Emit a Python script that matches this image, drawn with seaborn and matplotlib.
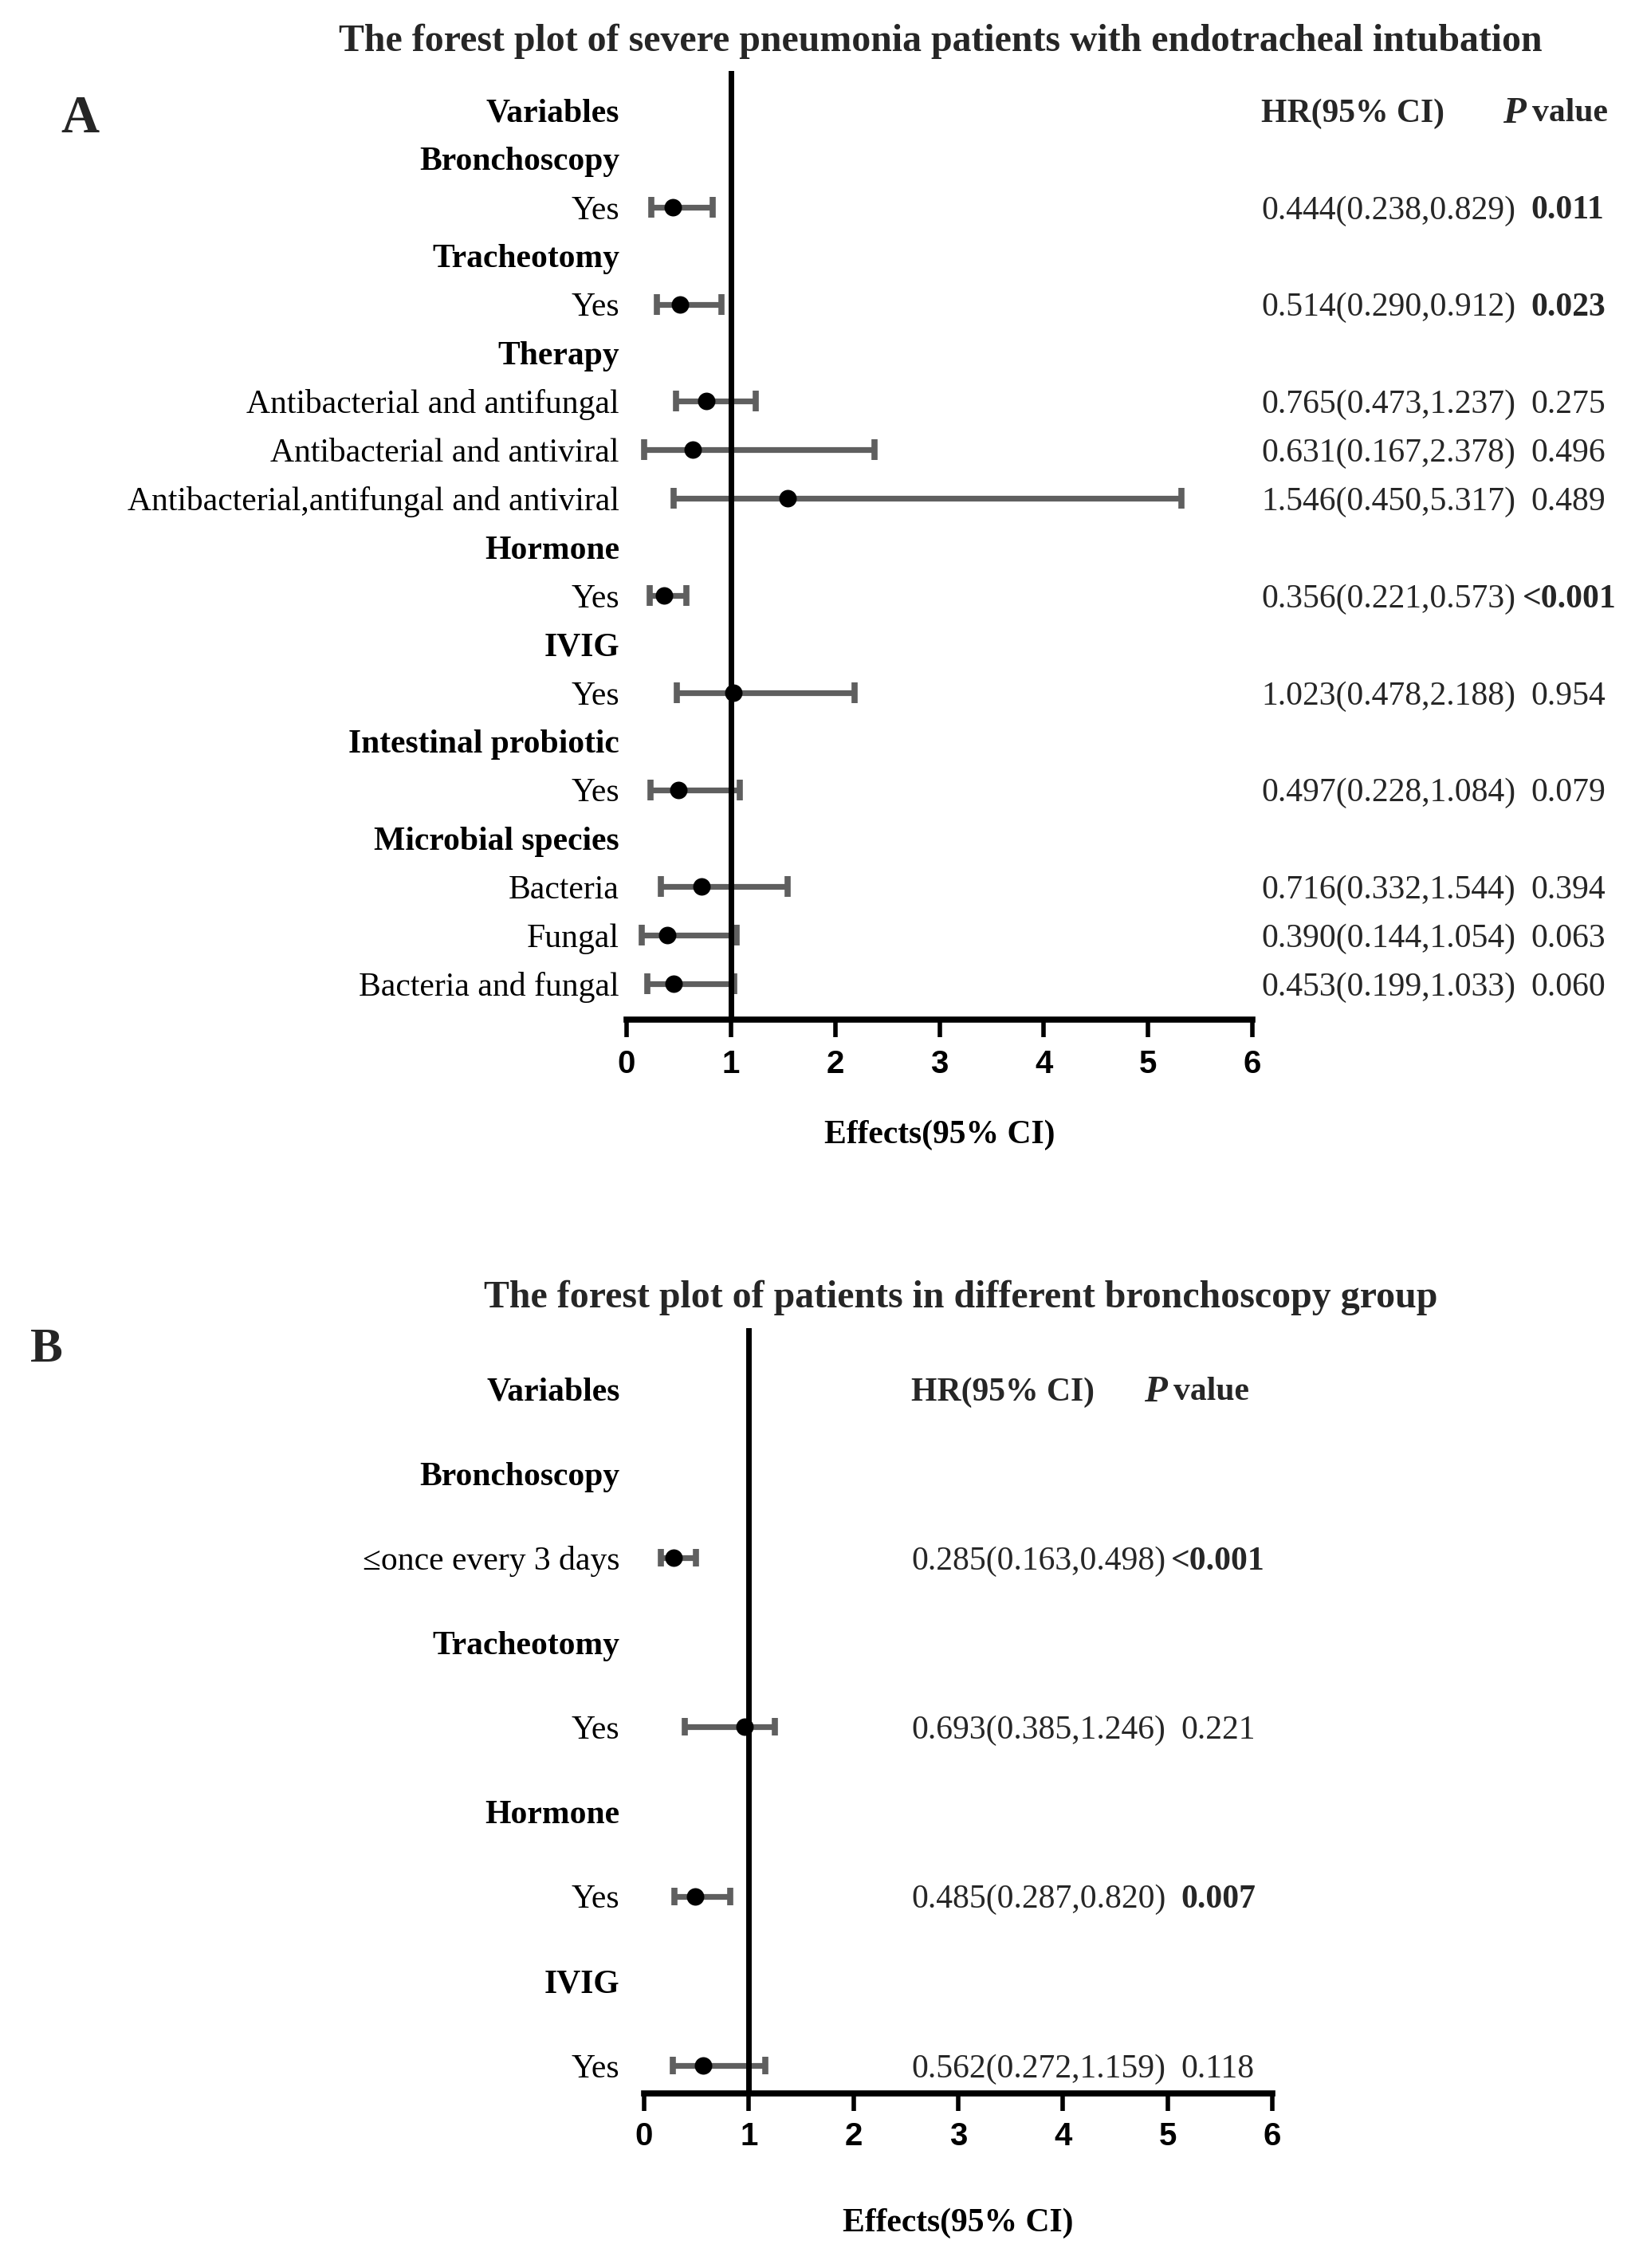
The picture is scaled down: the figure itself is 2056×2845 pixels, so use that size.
import numpy as np
import matplotlib
matplotlib.use("Agg")
import matplotlib.pyplot as plt
import matplotlib.transforms as mtransforms
import seaborn as sns

# ---- panel A: severe pneumonia patients with endotracheal intubation ----
labels_a = [
    "Variables", "Bronchoscopy", "Yes", "Tracheotomy", "Yes", "Therapy",
    "Antibacterial and antifungal", "Antibacterial and antiviral",
    "Antibacterial,antifungal and antiviral", "Hormone", "Yes", "IVIG", "Yes",
    "Intestinal probiotic", "Yes", "Microbial species", "Bacteria", "Fungal",
    "Bacteria and fungal",
]
header_a = [1, 1, 0, 1, 0, 1, 0, 0, 0, 1, 0, 1, 0, 1, 0, 1, 0, 0, 0]
nan = np.nan
hr_a = [nan, nan, 0.444, nan, 0.514, nan, 0.765, 0.631, 1.546, nan, 0.356,
        nan, 1.023, nan, 0.497, nan, 0.716, 0.390, 0.453]
lo_a = [nan, nan, 0.238, nan, 0.290, nan, 0.473, 0.167, 0.450, nan, 0.221,
        nan, 0.478, nan, 0.228, nan, 0.332, 0.144, 0.199]
hi_a = [nan, nan, 0.829, nan, 0.912, nan, 1.237, 2.378, 5.317, nan, 0.573,
        nan, 2.188, nan, 1.084, nan, 1.544, 1.054, 1.033]
ci_text_a = ["", "", "0.444(0.238,0.829)", "", "0.514(0.290,0.912)", "",
             "0.765(0.473,1.237)", "0.631(0.167,2.378)", "1.546(0.450,5.317)",
             "", "0.356(0.221,0.573)", "", "1.023(0.478,2.188)", "",
             "0.497(0.228,1.084)", "", "0.716(0.332,1.544)",
             "0.390(0.144,1.054)", "0.453(0.199,1.033)"]
p_text_a = ["", "", "0.011", "", "0.023", "", "0.275", "0.496", "0.489", "",
            "<0.001", "", "0.954", "", "0.079", "", "0.394", "0.063", "0.060"]
p_bold_a = [0, 0, 1, 0, 1, 0, 0, 0, 0, 0, 1, 0, 0, 0, 0, 0, 0, 0, 0]

# ---- panel B: different bronchoscopy group ----
labels_b = ["Variables", "Bronchoscopy", "\u2264once every 3 days", "Tracheotomy",
            "Yes", "Hormone", "Yes", "IVIG", "Yes"]
header_b = [1, 1, 0, 1, 0, 1, 0, 1, 0]
hr_b = [nan, nan, 0.285, nan, 0.96, nan, 0.485, nan, 0.562]   # plotted points
lo_b = [nan, nan, 0.163, nan, 0.385, nan, 0.287, nan, 0.272]
hi_b = [nan, nan, 0.498, nan, 1.246, nan, 0.820, nan, 1.159]
ci_text_b = ["", "", "0.285(0.163,0.498)", "", "0.693(0.385,1.246)", "",
             "0.485(0.287,0.820)", "", "0.562(0.272,1.159)"]
p_text_b = ["", "", "<0.001", "", "0.221", "", "0.007", "", "0.118"]
p_bold_b = [0, 0, 1, 0, 0, 0, 1, 0, 0]

x_ticks = [0, 1, 2, 3, 4, 5, 6]

sns.set_theme(style="white")
plt.rcParams["font.family"] = ["Liberation Serif", "DejaVu Serif"]

W, H = 2056, 2845
fig = plt.figure(figsize=(W / 100, H / 100), dpi=100)
fig.patch.set_facecolor("white")

BAR_COLOR = "#5f5f5f"
TICK_FONT = ["Liberation Sans Narrow", "Liberation Sans", "DejaVu Sans"]


def px_box(left, right, top, bottom):
    return [left / W, 1 - bottom / H, (right - left) / W, (bottom - top) / H]


def draw_forest(ax, labels, header, hr, lo, hi, ci_text, p_text, p_bold,
                row0, step, top, bottom, hr_x, p_x, p_lt_x, p_hdr_x,
                label_pad, capsize, xlabel_y, tick_pad):
    n = len(labels)
    rows = np.arange(n)
    hr = np.asarray(hr, float)
    lo = np.asarray(lo, float)
    hi = np.asarray(hi, float)
    m = ~np.isnan(hr)

    ax.set_xlim(0, 6)
    ax.set_ylim((bottom - row0) / step, (top - row0) / step)

    # CI bars, reference line, point estimates
    ax.errorbar(hr[m], rows[m], xerr=[hr[m] - lo[m], hi[m] - hr[m]], fmt="none",
                ecolor=BAR_COLOR, elinewidth=5.2, capsize=capsize, capthick=5.5,
                zorder=2, clip_on=False)
    ax.axvline(1, color="black", lw=5, zorder=3)
    sns.scatterplot(x=hr[m], y=rows[m], color="black", s=250, linewidth=0,
                    zorder=4, ax=ax, legend=False, clip_on=False)

    # row labels
    ax.set_yticks(rows)
    ax.set_yticklabels(labels)
    ax.tick_params(axis="y", length=0, pad=label_pad, labelsize=30, left=False)
    for lbl, hd in zip(ax.get_yticklabels(), header):
        lbl.set_fontweight("bold" if hd else "normal")
        lbl.set_color("black")

    # x axis
    ax.set_xticks(x_ticks)
    ax.set_xticklabels([str(t) for t in x_ticks])
    ax.tick_params(axis="x", bottom=True, direction="out", length=16, width=4,
                   pad=tick_pad, labelsize=29, color="black", labelcolor="black")
    for lbl in ax.get_xticklabels():
        lbl.set_fontfamily(TICK_FONT)
        lbl.set_fontweight("bold")
    for side in ["top", "right", "left"]:
        ax.spines[side].set_visible(False)
    ax.spines["bottom"].set_linewidth(5.5)
    ax.spines["bottom"].set_color("black")
    ax.set_facecolor("white")
    ax.grid(False)

    ax.set_xlabel("Effects(95% CI)", fontsize=30, fontweight="bold", color="black")
    ax.xaxis.set_label_coords(3, 1 - xlabel_y / H,
                              transform=mtransforms.blended_transform_factory(ax.transData, fig.transFigure))
    ax.xaxis.label.set_verticalalignment("center")

    # HR / P value columns
    tr = mtransforms.blended_transform_factory(fig.transFigure, ax.transData)
    ax.text(hr_x / W, 0, "HR(95% CI)", transform=tr, fontsize=30, fontweight="bold",
            va="center_baseline", ha="left")
    ax.text((p_hdr_x - 8) / W, 0, "P", transform=tr, fontsize=34, fontweight="bold",
            fontstyle="italic", va="center_baseline", ha="right")
    ax.text(p_hdr_x / W, 0, "value", transform=tr, fontsize=30, fontweight="bold",
            va="center_baseline", ha="left")
    for i in range(n):
        if ci_text[i]:
            ax.text(hr_x / W, i, ci_text[i], transform=tr, fontsize=30,
                    va="center_baseline", ha="left")
        if p_text[i]:
            x = p_lt_x if p_text[i].startswith("<") else p_x
            ax.text(x / W, i, p_text[i], transform=tr, fontsize=30,
                    fontweight="bold" if p_bold[i] else "normal",
                    va="center_baseline", ha="left")


ax_a = fig.add_axes(px_box(786, 1571, 89, 1279))
draw_forest(ax_a, labels_a, header_a, hr_a, lo_a, hi_a, ci_text_a, p_text_a, p_bold_a,
            row0=138, step=60.9, top=89, bottom=1279, hr_x=1582, p_x=1920,
            p_lt_x=1910, p_hdr_x=1922, label_pad=6.5, capsize=9.5,
            xlabel_y=1424, tick_pad=11)

ax_b = fig.add_axes(px_box(808, 1596, 1666, 2626))
draw_forest(ax_b, labels_b, header_b, hr_b, lo_b, hi_b, ci_text_b, p_text_b, p_bold_b,
            row0=1742, step=106.1, top=1666, bottom=2626, hr_x=1143, p_x=1481,
            p_lt_x=1469, p_hdr_x=1472, label_pad=22, capsize=8,
            xlabel_y=2789, tick_pad=9)

# titles and panel letters
fig.text(1180 / W, 1 - 52 / H,
         "The forest plot of severe pneumonia patients with endotracheal intubation",
         ha="center", va="center", fontsize=34.5, fontweight="bold")
fig.text(1205 / W, 1 - 1628 / H,
         "The forest plot of patients in different bronchoscopy group",
         ha="center", va="center", fontsize=34.5, fontweight="bold")
fig.text(100 / W, 1 - 149 / H, "A", ha="center", va="center", fontsize=48, fontweight="bold")
fig.text(58 / W, 1 - 1693 / H, "B", ha="center", va="center", fontsize=44, fontweight="bold")

fig.savefig("out.png", dpi=100, facecolor="white")
